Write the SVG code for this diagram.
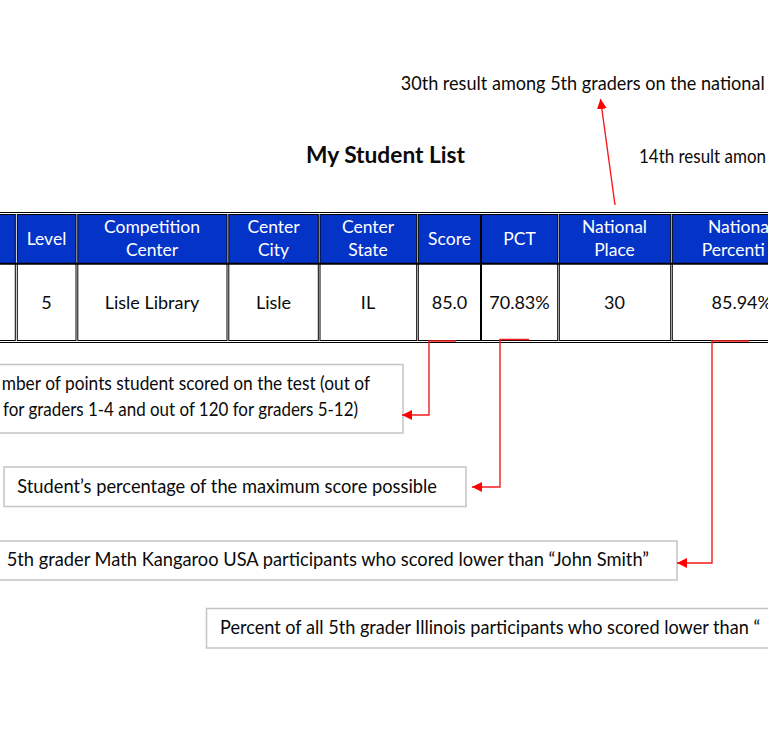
<svg xmlns="http://www.w3.org/2000/svg" width="768" height="743" viewBox="0 0 768 743">
<style>
  .t { font-family: Lato, "Noto Sans", "Liberation Sans", sans-serif; fill: #0a0a0a; }
  .ann { font-size: 19px; }
  .hd { font-family: Lato, "Noto Sans", "Liberation Sans", sans-serif; font-size: 17.5px; fill: #fff; text-anchor: middle; }
  .bd { font-family: Lato, "Noto Sans", "Liberation Sans", sans-serif; font-size: 18px; fill: #0a0a0a; text-anchor: middle; }
  .hcell { fill: #0433c8; stroke: #000; stroke-width: 1; }
  .bcell { fill: #fff; stroke: #000; stroke-width: 1; }
  .box { fill: #fff; stroke: #c4c4c4; stroke-width: 1.5; }
  .conn { fill: none; stroke: #f41c1c; stroke-width: 1.4; }
</style>
<defs>
  <marker id="ah" markerUnits="userSpaceOnUse" markerWidth="11" markerHeight="11" refX="10" refY="5" orient="auto">
    <path d="M0,0 L10,5 L0,10 z" fill="#f00"/>
  </marker>
</defs>
<rect width="768" height="743" fill="#fff"/>

<g id="title">
  <text class="t" x="306" y="163" font-size="22.5" font-weight="bold" textLength="159" lengthAdjust="spacingAndGlyphs">My Student List</text>
</g>

<g id="note-national-place">
  <text class="t ann" x="400.7" y="90" textLength="364" lengthAdjust="spacingAndGlyphs">30th result among 5th graders on the national</text>
</g>
<g id="note-state-place">
  <text class="t ann" x="639" y="163" textLength="127" lengthAdjust="spacingAndGlyphs">14th result amon</text>
</g>

<g id="table">
  <line x1="0" y1="212.5" x2="768" y2="212.5" stroke="#000" stroke-width="1"/>
  <line x1="0" y1="342.5" x2="768" y2="342.5" stroke="#000" stroke-width="1"/>
  <rect class="hcell" x="-10" y="214.5" width="25.3" height="49"/>
  <rect class="hcell" x="17.3" y="214.5" width="58.7" height="49"/>
  <rect class="hcell" x="77.8" y="214.5" width="149.2" height="49"/>
  <rect class="hcell" x="228.8" y="214.5" width="89.5" height="49"/>
  <rect class="hcell" x="320" y="214.5" width="96.7" height="49"/>
  <rect class="hcell" x="418.3" y="214.5" width="62.7" height="49"/>
  <rect class="hcell" x="481" y="214.5" width="76.7" height="49"/>
  <rect class="hcell" x="559.3" y="214.5" width="111.4" height="49"/>
  <rect class="hcell" x="672.3" y="214.5" width="130" height="49"/>
  <rect class="bcell" x="-10" y="263.5" width="25.3" height="77"/>
  <rect class="bcell" x="17.3" y="263.5" width="58.7" height="77"/>
  <rect class="bcell" x="77.8" y="263.5" width="149.2" height="77"/>
  <rect class="bcell" x="228.8" y="263.5" width="89.5" height="77"/>
  <rect class="bcell" x="320" y="263.5" width="96.7" height="77"/>
  <rect class="bcell" x="418.3" y="263.5" width="62.7" height="77"/>
  <rect class="bcell" x="481" y="263.5" width="76.7" height="77"/>
  <rect class="bcell" x="559.3" y="263.5" width="111.4" height="77"/>
  <rect class="bcell" x="672.3" y="263.5" width="130" height="77"/>
  <line x1="0" y1="263.7" x2="768" y2="263.7" stroke="#000" stroke-width="2"/>
  <line x1="481" y1="214" x2="481" y2="340.5" stroke="#000" stroke-width="2"/>

  <text class="hd" x="46.5" y="245">Level</text>
  <text class="hd" x="152" y="233">Competition</text>
  <text class="hd" x="152" y="256">Center</text>
  <text class="hd" x="273.5" y="233">Center</text>
  <text class="hd" x="273.5" y="256">City</text>
  <text class="hd" x="368" y="233">Center</text>
  <text class="hd" x="368" y="256">State</text>
  <text class="hd" x="449.5" y="245">Score</text>
  <text class="hd" x="519.5" y="245">PCT</text>
  <text class="hd" x="614.5" y="233">National</text>
  <text class="hd" x="614.5" y="256">Place</text>
  <text class="hd" x="708" y="233" style="text-anchor:start">Nationa</text>
  <text class="hd" x="701.7" y="256" style="text-anchor:start">Percenti</text>

  <text class="bd" x="46.5" y="309">5</text>
  <text class="bd" x="152" y="309">Lisle Library</text>
  <text class="bd" x="273.5" y="309">Lisle</text>
  <text class="bd" x="368" y="309">IL</text>
  <text class="bd" x="449.5" y="309">85.0</text>
  <text class="bd" x="519.5" y="309">70.83%</text>
  <text class="bd" x="614.5" y="309">30</text>
  <text class="bd" x="711.5" y="309" style="text-anchor:start">85.94%</text>
</g>

<g id="note-score">
  <rect class="box" x="-10" y="364.5" width="413" height="68.5"/>
  <text class="t ann" x="1.7" y="390" textLength="368.3" lengthAdjust="spacingAndGlyphs">mber of points student scored on the test (out of</text>
  <text class="t ann" x="3" y="416" textLength="355" lengthAdjust="spacingAndGlyphs">for graders 1-4 and out of 120 for graders 5-12)</text>
</g>

<g id="note-pct">
  <rect class="box" x="4" y="467" width="462" height="39.5"/>
  <text class="t ann" x="17.3" y="493" textLength="419.7" lengthAdjust="spacingAndGlyphs">Student’s percentage of the maximum score possible</text>
</g>

<g id="note-national-percentile">
  <rect class="box" x="-10" y="541" width="687" height="39"/>
  <text class="t ann" x="6.7" y="566" textLength="642.3" lengthAdjust="spacingAndGlyphs">5th grader Math Kangaroo USA participants who scored lower than “John Smith”</text>
</g>

<g id="note-state-percentile">
  <rect class="box" x="206.5" y="608.5" width="580" height="39.5"/>
  <text class="t ann" x="220" y="634" textLength="540" lengthAdjust="spacingAndGlyphs">Percent of all 5th grader Illinois participants who scored lower than “</text>
</g>

<g id="connectors">
  <polyline class="conn" points="456,341 429,341 429,415 402,415" marker-end="url(#ah)"/>
  <polyline class="conn" points="529,339.5 500,339.5 500,487 472,487" marker-end="url(#ah)"/>
  <polyline class="conn" points="749,341 712,341 712,563 677,563" marker-end="url(#ah)"/>
  <line class="conn" x1="615" y1="205" x2="600.5" y2="99" marker-end="url(#ah)"/>
</g>
</svg>
